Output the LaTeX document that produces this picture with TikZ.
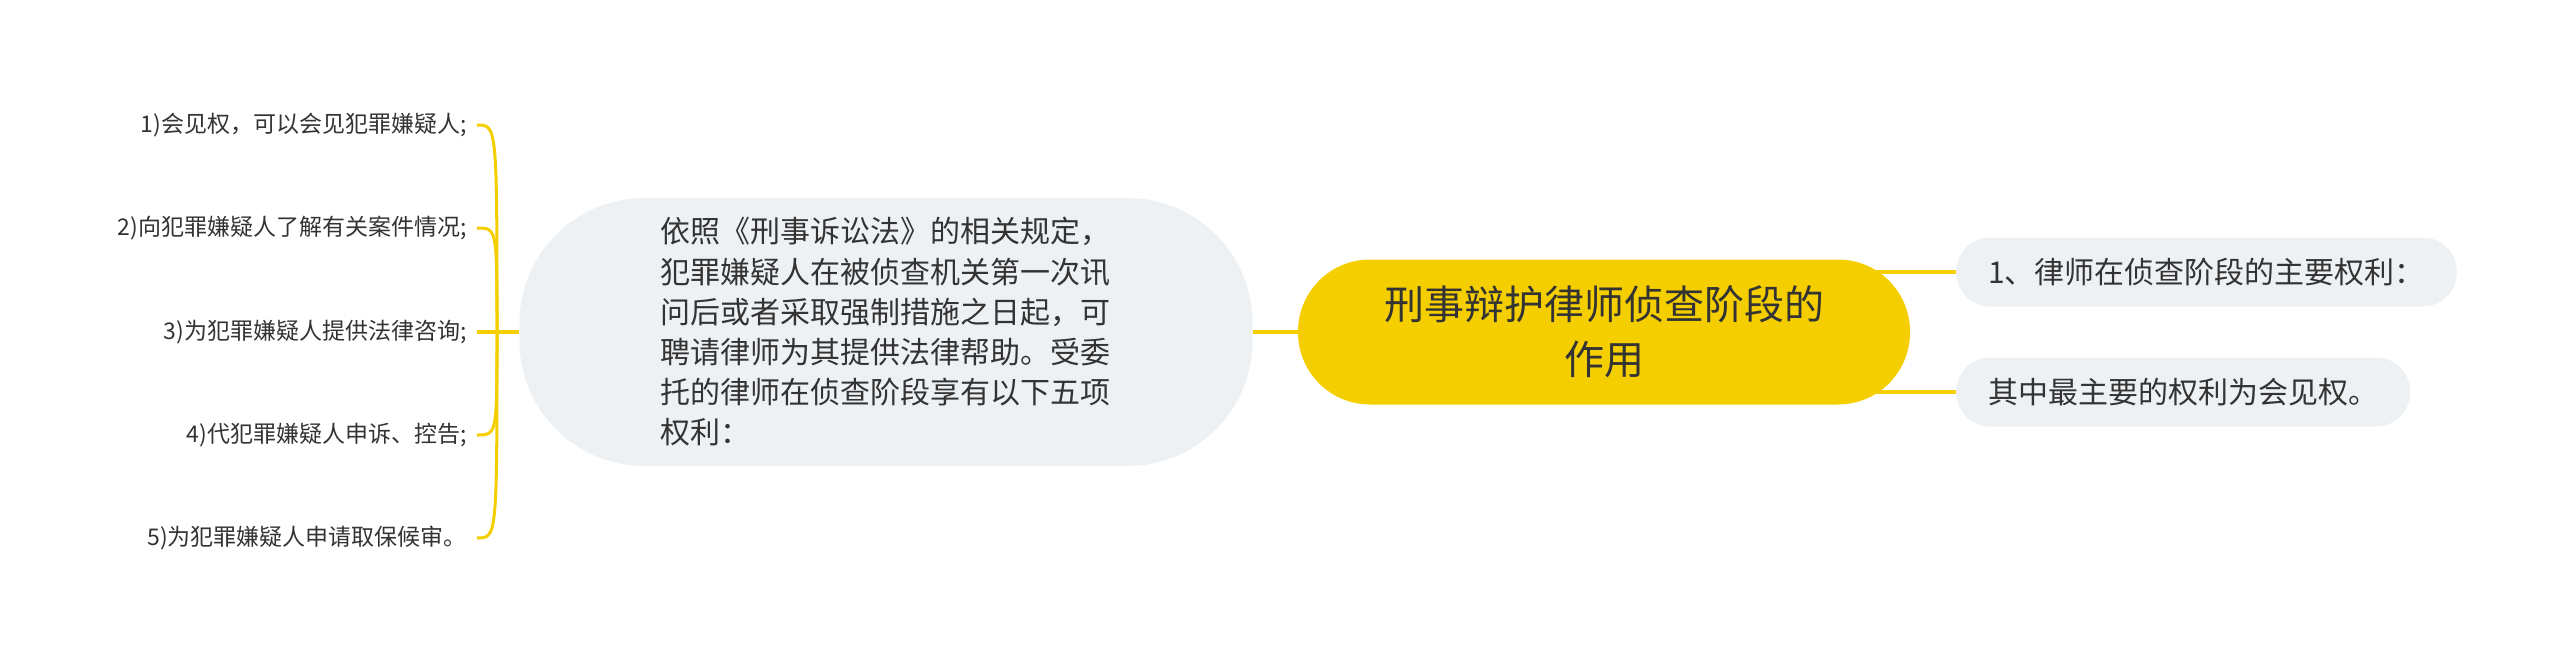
\documentclass[tikz,border=0pt]{standalone}
\usepackage{fontspec}
\setmainfont{Noto Sans CJK SC}
\usetikzlibrary{calc,backgrounds}
\definecolor{mapyellow}{HTML}{F5CE00}
\definecolor{mapgrey}{HTML}{EEF1F4}
\definecolor{maptext}{HTML}{333333}

\begin{document}
\begin{tikzpicture}[x=1pt,y=-1pt,
	topic/.style={fill=mapyellow,rounded corners=72pt,minimum width=612pt,minimum height=145pt,align=center,text=maptext,font=\fontsize{40}{55}\selectfont},
	detail/.style={fill=mapgrey,rounded corners=125pt,minimum width=733pt,minimum height=268pt,text width=452pt,align=left,text=maptext,font=\fontsize{30}{40.2}\selectfont},
	sub/.style={fill=mapgrey,rounded corners=34pt,minimum height=69pt,inner xsep=32pt,anchor=west,text=maptext,font=\fontsize{30}{36}\selectfont},
	leaf/.style={anchor=east,inner xsep=10pt,text=maptext,font=\fontsize{23}{28}\selectfont},
	link/.style={draw=mapyellow,line width=3.5pt},
	twig/.style={draw=mapyellow,line width=3pt}]
					%\draw[help lines] (0,0) grid[step=100] (2560,665);
					\useasboundingbox (0,0) rectangle (2560,665);
					
					%NODES
					\node[topic] (ctr) at (1604,332) {刑事辩护律师侦查阶段的\\作用};
					\node[detail] (lft) at (886,332) {依照《刑事诉讼法》的相关规定，\\犯罪嫌疑人在被侦查机关第一次讯\\问后或者采取强制措施之日起，可\\聘请律师为其提供法律帮助。受委\\托的律师在侦查阶段享有以下五项\\权利：};
					\node[sub] (r1) at (1956,272) {1、律师在侦查阶段的主要权利：};
					\node[sub] (r2) at (1956,392) {其中最主要的权利为会见权。};
					
					\node[leaf] (l1) at (477,125) {1)会见权，可以会见犯罪嫌疑人;};
					\node[leaf] (l2) at (477,228) {2)向犯罪嫌疑人了解有关案件情况;};
					\node[leaf] (l3) at (477,332) {3)为犯罪嫌疑人提供法律咨询;};
					\node[leaf] (l4) at (477,435) {4)代犯罪嫌疑人申诉、控告;};
					\node[leaf] (l5) at (477,538) {5)为犯罪嫌疑人申请取保候审。};
					\coordinate (hub) at (497,332);
					
					%LINKS
					\draw[link] (ctr) -- (lft);
					\draw[link] (lft.west) -- (l3.east);
					\draw[twig] (hub) .. controls (hub |- l1.east) .. (l1.east);
					\draw[twig] (hub) .. controls (hub |- l2.east) .. (l2.east);
					\draw[twig] (hub) .. controls (hub |- l4.east) .. (l4.east);
					\draw[twig] (hub) .. controls (hub |- l5.east) .. (l5.east);
					\begin{scope}[on background layer]
						\draw[link] (ctr.center |- r1.west) -- (r1.west);
						\draw[link] (ctr.center |- r2.west) -- (r2.west);
					\end{scope}
					
				  \end{tikzpicture}
\end{document}
